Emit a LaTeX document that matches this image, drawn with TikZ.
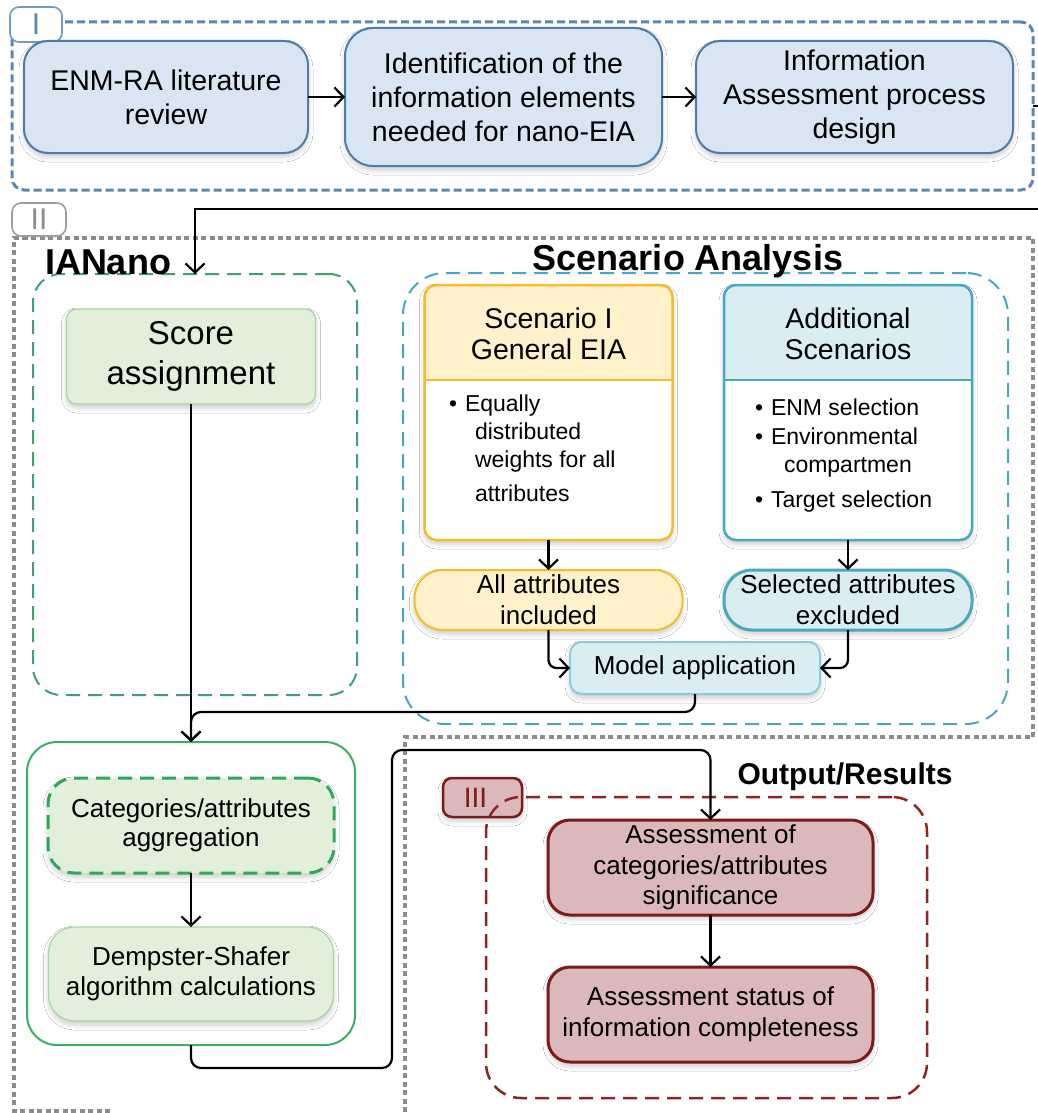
\documentclass[tikz,border=0pt]{standalone}
\usepackage{fontspec}
\setmainfont{Liberation Sans}
\usetikzlibrary{arrows.meta,shadows.blur}

\definecolor{stepFill}{HTML}{D9E5F2}
\definecolor{stepLine}{HTML}{4F7BA8}
\definecolor{frameBlue}{HTML}{5A87B4}
\definecolor{frameGray}{HTML}{8C8C8C}
\definecolor{ianGreen}{HTML}{3FA16E}
\definecolor{scTeal}{HTML}{4BA6C0}
\definecolor{gold}{HTML}{F0BE2C}
\definecolor{goldFill}{HTML}{FFF1CA}
\definecolor{tealFill}{HTML}{D9EDF3}
\definecolor{modelLine}{HTML}{93CADB}
\definecolor{greenFill}{HTML}{E2EFDA}
\definecolor{greenLine}{HTML}{A8D5A3}
\definecolor{aggGreen}{HTML}{3DAE66}
\definecolor{catGreen}{HTML}{2EA85A}
\definecolor{redFill}{HTML}{DBB8BA}
\definecolor{redLine}{HTML}{7D1B1B}
\definecolor{redDash}{HTML}{8E2424}

\newcommand\fsz[2]{\fontsize{#1}{#2}\selectfont}

\begin{document}
\begin{tikzpicture}[x=1pt,y=-1pt,
  every node/.style={outer sep=0pt, inner sep=0pt},
  soft/.style={blur shadow={shadow xshift=0pt,shadow yshift=-4pt,shadow blur radius=5pt,shadow opacity=20}},
  stepbox/.style={draw=stepLine, fill=stepFill, line width=2, rounded corners=24,
                  align=center, font=\fsz{28.5}{34}, soft},
  tab/.style={fill=white, line width=1.6, rounded corners=9},
  conn/.style={line width=2.2, -{Straight Barb[length=9pt,width=19pt]}},
  longdash/.style={dash pattern=on 14pt off 8pt},
  hdr/.style={align=center, font=\fsz{28.5}{31}},
  item/.style={anchor=base west, font=\fsz{23}{28}},
  pill/.style={line width=2, rounded corners=28, minimum height=60, align=center,
               font=\fsz{26}{31}, soft},
  greenbox/.style={draw=greenLine, fill=greenFill, line width=1.2, align=center, soft},
  redbox/.style={draw=redLine, fill=redFill, line width=3, rounded corners=22,
                 minimum width=325, minimum height=95, align=center, font=\fsz{26}{30.5}, soft}
]
\useasboundingbox (0,0) rectangle (1038,1113);
\fill[white] (0,0) rectangle (1038,1113);

% ---------- Stage I ----------
\node[draw=frameBlue, line width=3, dash pattern=on 8pt off 4pt, rounded corners=12,
      minimum width=1021, minimum height=168] (frameI) at (522.5,106) {};
\node[tab, draw=frameBlue!85, minimum width=52, minimum height=35,
      font=\fsz{30}{30}, text=frameBlue] (tabI) at (36,24.5) {I};

\node[stepbox, minimum width=284, minimum height=112] (b1) at (166,97)
  {ENM-RA literature\\review};
\node[stepbox, rounded corners=28, minimum width=317, minimum height=138] (b2) at (503.5,97)
  {Identification of the\\information elements\\needed for nano-EIA};
\node[stepbox, minimum width=317, minimum height=112] (b3) at (854.5,97)
  {Information\\Assessment process\\design};

\draw[conn] (b1.east) -- (b2.west);
\draw[conn] (b2.east) -- (b3.west);

% ---------- Stage II ----------
\draw[frameGray, line width=4, dash pattern=on 5pt off 3.5pt]
  (110,1111) -- (14,1111) -- (14,238) -- (1033,238) -- (1033,737) -- (405,737) -- (405,1113);
\node[tab, draw=frameGray!85, minimum width=54, minimum height=33,
      font=\fsz{30}{30}, text=frameGray] (tabII) at (39,219.5) {II};

% IANano block
\node[draw=ianGreen, line width=2, longdash, rounded corners=28,
      minimum width=324, minimum height=421] (ian) at (195,484.5) {};
\node[anchor=base west, font=\bfseries\fsz{36}{36}] (ianT) at (45,274) {IANano};
\node[greenbox, rounded corners=10, minimum width=249, minimum height=95,
      font=\fsz{33}{40}] (score) at (191,356.5) {Score\\assignment};

% Scenario analysis block
\node[draw=scTeal, line width=2, longdash, rounded corners=42,
      minimum width=605, minimum height=451] (scen) at (705.5,498.5) {};
\node[anchor=base, font=\bfseries\fsz{36}{36}] (scenT) at (688,270) {Scenario Analysis};

% Scenario I card
\node[fill=white, rounded corners=12, minimum width=248, minimum height=255, soft] (s1) at (548.5,412.5) {};
\begin{scope}
  \clip[rounded corners=12] (s1.north west) rectangle (s1.south east);
  \fill[goldFill] (s1.north west) rectangle (s1.east |- 0,380);
\end{scope}
\draw[gold, line width=2.5] (s1.west |- 0,380) -- (s1.east |- 0,380);
\draw[gold, line width=2.5, rounded corners=12] (s1.north west) rectangle (s1.south east);
\node[hdr] (s1h) at (548.5,334) {Scenario I\\General EIA};
\node[item] (s1a) at (449,411) {\textbullet};
\node[item] (s1b) at (465,411) {Equally};
\node[item] (s1c) at (475,439) {distributed};
\node[item] (s1d) at (475,467) {weights for all};
\node[item] (s1e) at (475,501) {attributes};

% Additional scenarios card
\node[fill=white, rounded corners=12, minimum width=248, minimum height=255, soft] (s2) at (848,412.5) {};
\begin{scope}
  \clip[rounded corners=12] (s2.north west) rectangle (s2.south east);
  \fill[tealFill] (s2.north west) rectangle (s2.east |- 0,380);
\end{scope}
\draw[scTeal, line width=2.5] (s2.west |- 0,380) -- (s2.east |- 0,380);
\draw[scTeal, line width=2.5, rounded corners=12] (s2.north west) rectangle (s2.south east);
\node[hdr] (s2h) at (848,334) {Additional\\Scenarios};
\node[item] (s2a) at (755,415) {\textbullet};
\node[item] (s2b) at (771,415) {ENM selection};
\node[item] (s2c) at (755,444) {\textbullet};
\node[item] (s2d) at (771,444) {Environmental};
\node[item] (s2e) at (784,472) {compartmen};
\node[item] (s2f) at (755,507) {\textbullet};
\node[item] (s2g) at (771,507) {Target selection};

\node[pill, draw=gold, fill=goldFill, minimum width=268] (pill1) at (548.5,600)
  {All attributes\\included};
\node[pill, draw=scTeal, line width=3, fill=tealFill, minimum width=248] (pill2) at (848,600)
  {Selected attributes\\excluded};
\node[draw=modelLine, fill=tealFill, line width=2, rounded corners=12,
      minimum width=250, minimum height=52, font=\fsz{26}{30}, soft] (model) at (695,668)
  {Model application};

\draw[conn] (s1.south) -- (pill1.north);
\draw[conn] (s2.south) -- (pill2.north);
\draw[conn, rounded corners=8] (pill1.south) |- (model.west);
\draw[conn, rounded corners=8] (pill2.south) |- (model.east);

% Aggregation block
\node[draw=aggGreen, fill=white, line width=2, rounded corners=30,
      minimum width=328, minimum height=303] (agg) at (191,893.5) {};
\node[greenbox, draw=catGreen, line width=3, longdash, rounded corners=26,
      minimum width=286, minimum height=95, font=\fsz{26}{29}] (cat) at (191,825.5)
  {Categories/attributes\\aggregation};
\node[greenbox, rounded corners=26, minimum width=285, minimum height=94,
      font=\fsz{26}{30}] (ds) at (191,974)
  {Dempster-Shafer\\algorithm calculations};

\draw[conn] (frameI.east) -- (1050,106) -- (1050,209) -- (ian.north |- 0,209) -- (ian.north);
\draw[conn] (score.south) -- (agg.north);
\draw[conn, rounded corners=10] (model.south) |- (agg.north |- 0,712) -- (agg.north);
\draw[conn] (cat.south) -- (ds.north);

% ---------- Stage III ----------
\node[anchor=base, font=\bfseries\fsz{30}{30}] (outT) at (845,784) {Output/Results};
\node[tab, draw=redLine, fill=redFill, line width=2.5, minimum width=79, minimum height=39,
      font=\fsz{28}{28}, text=redLine, soft] (tabIII) at (482.5,797.5) {III\hspace*{14pt}};
\node[draw=redDash, line width=2.5, longdash, rounded corners=35,
      minimum width=441, minimum height=301] (outbox) at (706.5,947.5) {};
\node[redbox] (ass1) at (710.5,867.5) {Assessment of\\categories/attributes\\significance};
\node[redbox] (ass2) at (710.5,1014.5) {Assessment status of\\information completeness};

\draw[conn] (ass1.south) -- (ass2.north);
\draw[conn, rounded corners=10] (agg.south) -- (191,1068) -| (392,750) -| (ass1.north);

\end{tikzpicture}
\end{document}
